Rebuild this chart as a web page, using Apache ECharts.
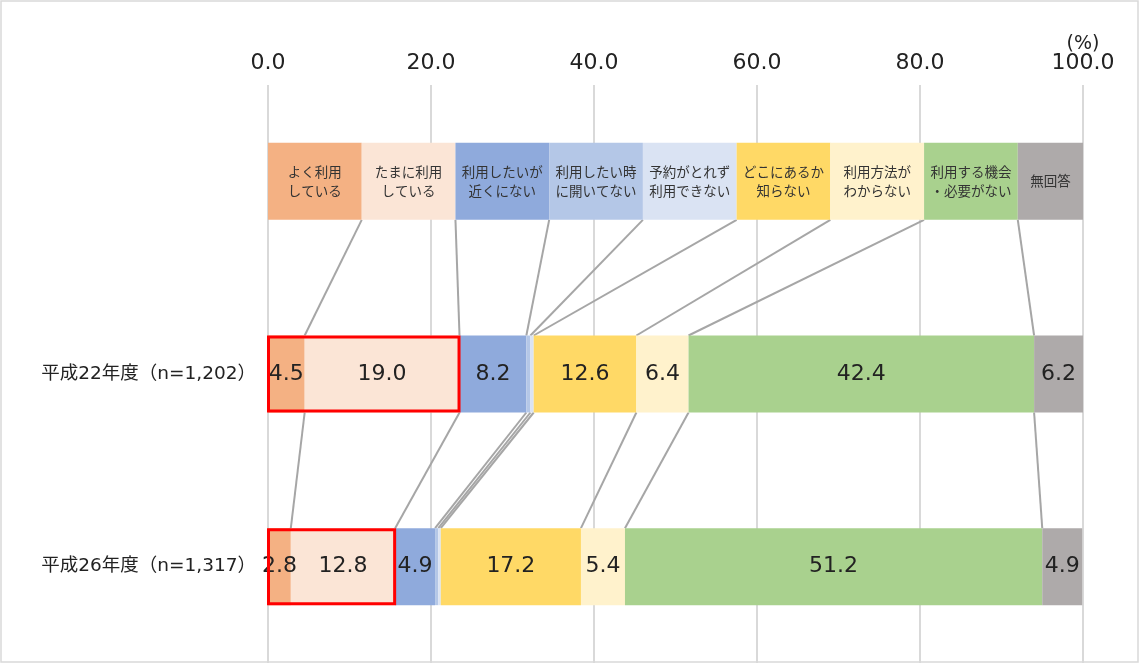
<!DOCTYPE html>
<html>
<head>
<meta charset="utf-8">
<script src="https://cdn.jsdelivr.net/npm/echarts@6/dist/echarts.min.js"></script>
<style>
  html, body { margin: 0; padding: 0; background: #fff; }
  #chart { width: 1140px; height: 664px; }
</style>
</head>
<body>
<div id="chart"></div>
<script>
// Answer categories (top key row reads left to right in this order)
const categories = [
  'よく利用している', 'たまに利用している', '利用したいが近くにない',
  '利用したい時に開いてない', '予約がとれず利用できない', 'どこにあるか知らない',
  '利用方法がわからない', '利用する機会・必要がない', '無回答'
];
// Two-line captions shown inside the key row
const keyLabels = [
  'よく利用\nしている', 'たまに利用\nしている', '利用したいが\n近くにない',
  '利用したい時\nに開いてない', '予約がとれず\n利用できない', 'どこにあるか\n知らない',
  '利用方法が\nわからない', '利用する機会\n・必要がない', '無回答'
];
// Widths of the key-row blocks (%)
const keyWidths = [11.5, 11.5, 11.5, 11.5, 11.5, 11.5, 11.5, 11.5, 8.0];
// Row labels (first row is the key row)
const rowLabels = ['', '平成22年度（n=1,202）', '平成26年度（n=1,317）'];
// Survey results (%)
const h22 = [4.5, 19.0, 8.2, 0.5, 0.4, 12.6, 6.4, 42.4, 6.2];
const h26 = [2.8, 12.8, 4.9, 0.4, 0.3, 17.2, 5.4, 51.2, 4.9];
// Axis tick values
const xTicks = [0, 20, 40, 60, 80, 100];

const colors = ['#F4B183', '#FBE5D6', '#8FAADC', '#B4C7E7', '#DAE3F3',
                '#FFD966', '#FFF2CC', '#A9D18E', '#AEAAAA'];
const BAR_W = 77;
const rowsData = [keyWidths, h22, h26];

function cumulative(arr) {
  const out = [];
  let s = 0;
  for (const v of arr) { s += v; out.push(s); }
  return out;
}
const cums = rowsData.map(cumulative);

// Connector lines between matching boundaries of adjacent rows
const connectorData = [];
for (let r = 0; r < 2; r++) {
  for (let j = 0; j < categories.length - 1; j++) {
    connectorData.push([cums[r][j], cums[r + 1][j], r]);
  }
}
// Highlight frames around the "uses the service" segments
const frameData = [[cums[1][1], 1], [cums[2][1], 2]];

const numFont = 'DejaVu Sans';

const barSeries = categories.map((name, i) => ({
  name: name,
  type: 'bar',
  stack: 'all',
  barWidth: BAR_W,
  itemStyle: { color: colors[i] },
  z: 3,
  data: rowsData.map((arr, r) => {
    if (r === 0) {
      return {
        value: arr[i],
        label: {
          show: true, position: 'inside', formatter: keyLabels[i],
          fontFamily: 'Noto Sans CJK JP', fontSize: 13.5, lineHeight: 19, color: '#333'
        }
      };
    }
    return {
      value: arr[i],
      label: {
        show: arr[i] >= 1, position: 'inside',
        formatter: (p) => p.value.toFixed(1),
        fontFamily: numFont, fontSize: 22, color: '#222'
      }
    };
  })
}));

const chart = echarts.init(document.getElementById('chart'), null, { renderer: 'canvas' });
chart.setOption({
  animation: false,
  backgroundColor: '#fff',
  grid: { left: 268, right: 57, top: 85, height: 578 },
  xAxis: {
    type: 'value', position: 'top', min: 0, max: 100, interval: 20,
    axisLine: { show: false }, axisTick: { show: false },
    axisLabel: {
      margin: 11, fontFamily: numFont, fontSize: 22, color: '#222',
      formatter: (v) => xTicks.includes(v) ? v.toFixed(1) : ''
    },
    splitLine: { show: true, lineStyle: { color: '#D9D9D9', width: 2 } }
  },
  yAxis: {
    type: 'category', inverse: true, data: rowLabels,
    axisLine: { show: false }, axisTick: { show: false },
    axisLabel: {
      margin: 12, fontSize: 18.5, color: '#222',
      fontFamily: 'DejaVu Sans, Noto Sans CJK JP'
    }
  },
  graphic: [
    { type: 'rect', shape: { x: 1, y: 1, width: 1137, height: 661 },
      style: { fill: 'none', stroke: '#D9D9D9', lineWidth: 1.5 }, silent: true, z: -1 },
    { type: 'text', x: 1083, y: 44,
      style: { text: '(%)', fontFamily: numFont, fontSize: 19, fill: '#222',
               textAlign: 'center', textVerticalAlign: 'middle' } }
  ],
  series: [
    ...barSeries,
    {
      type: 'custom', name: 'connectors', z: 2, silent: true,
      encode: { x: [0, 1], y: 2 },
      data: connectorData,
      renderItem: (params, api) => {
        const a = api.coord([api.value(0), api.value(2)]);
        const b = api.coord([api.value(1), api.value(2) + 1]);
        return {
          type: 'line',
          shape: { x1: a[0], y1: a[1] + BAR_W / 2, x2: b[0], y2: b[1] - BAR_W / 2 },
          style: { stroke: '#A6A6A6', lineWidth: 2 }
        };
      }
    },
    {
      type: 'custom', name: 'frames', z: 10, silent: true,
      encode: { x: 0, y: 1 },
      data: frameData,
      renderItem: (params, api) => {
        const a = api.coord([0, api.value(1)]);
        const b = api.coord([api.value(0), api.value(1)]);
        return {
          type: 'rect',
          shape: { x: a[0] + 0.5, y: a[1] - BAR_W / 2 + 1.5,
                   width: b[0] - a[0] - 1, height: BAR_W - 3 },
          style: { fill: 'none', stroke: '#FF0000', lineWidth: 3 }
        };
      }
    }
  ]
});
</script>
</body>
</html>
